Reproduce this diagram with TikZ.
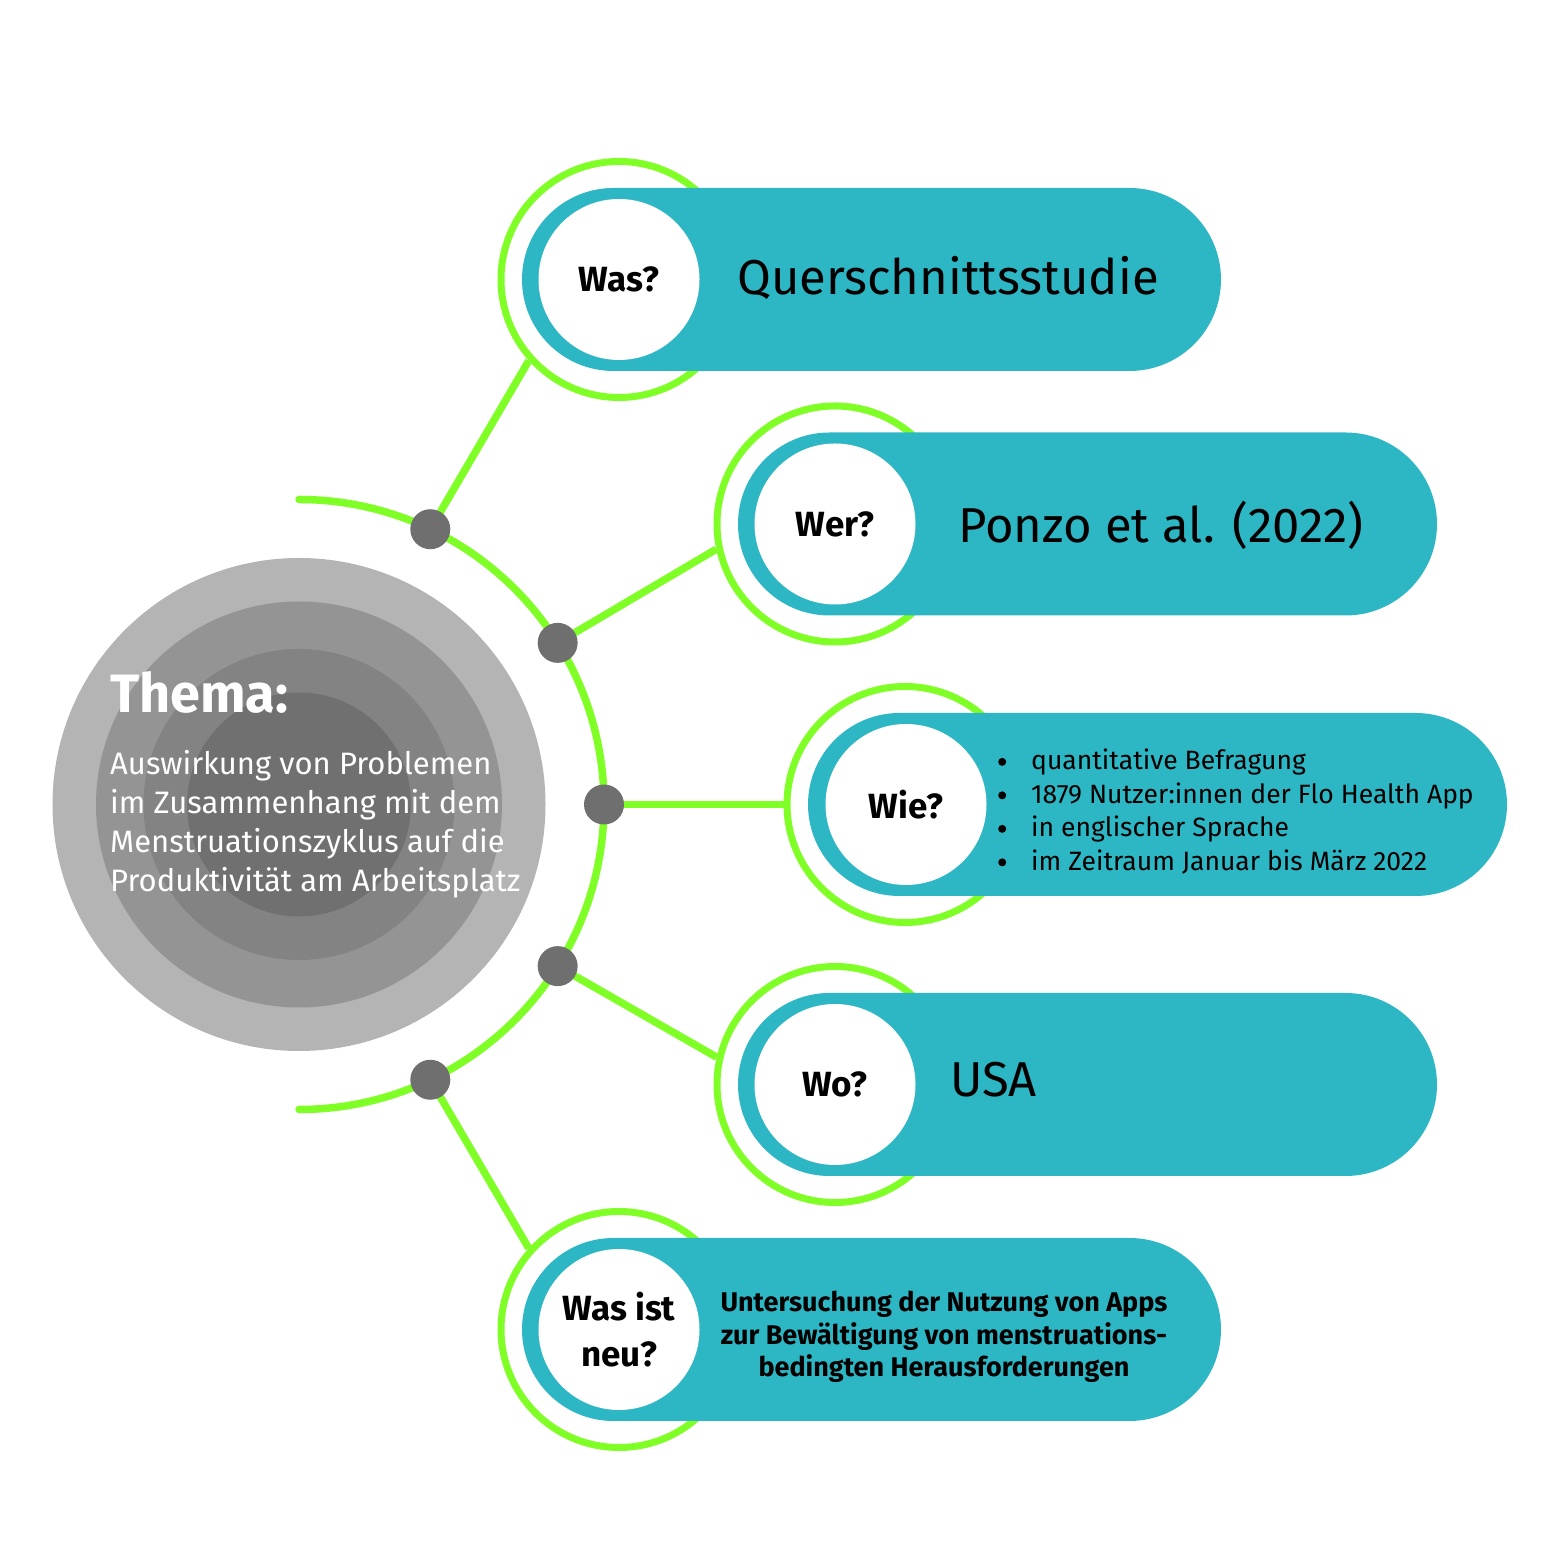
\documentclass[tikz,border=0pt]{standalone}
\usepackage{fontspec}
\setmainfont{Fira Sans}
\usetikzlibrary{calc}
\definecolor{lgreen}{HTML}{7FFF26}
\definecolor{pteal}{HTML}{2DB7C4}
\definecolor{dotgray}{HTML}{6F6F6F}
\definecolor{gA}{HTML}{B4B4B4}
\definecolor{gB}{HTML}{949494}
\definecolor{gC}{HTML}{838383}
\definecolor{gD}{HTML}{707070}
\newcommand\mybul{\makebox[34pt][l]{\hspace{1pt}\raisebox{4pt}{\tikz\fill (0,0) circle[radius=4pt];}}}
\begin{document}
\begin{tikzpicture}[x=1pt,y=1pt,
  ring/.style={circle, draw=lgreen, line width=7pt, minimum size=236pt, inner sep=0pt},
  pill/.style={fill=pteal, minimum width=699pt, minimum height=183pt, rounded corners=91.5pt, inner sep=0pt},
  hole/.style={circle, fill=white, minimum size=161pt, inner sep=0pt, font=\fontsize{35}{44}\selectfont\bfseries, align=center},
  dot/.style={circle, fill=dotgray, minimum size=40pt, inner sep=0pt},
  link/.style={draw=lgreen, line width=7.5pt},
  disc/.style={circle, inner sep=0pt},
  big/.style={font=\fontsize{49}{58}\selectfont, anchor=base west, inner sep=0pt},
]
\useasboundingbox (0,0) rectangle (1563,1563);
\coordinate (m) at (299,758.5);
% grey target
\node[disc, fill=gA, minimum size=493pt] (g1) at (m) {};
\node[disc, fill=gB, minimum size=406pt] (g2) at (m) {};
\node[disc, fill=gC, minimum size=311pt] (g3) at (m) {};
\node[disc, fill=gD, minimum size=224pt] (g4) at (m) {};
% green arc
\draw[link, line cap=round] (299,1063.5) arc[start angle=90, end angle=-90, radius=305];
% dot positions
\coordinate (c1) at ($(m)+(64.5:305)$);
\coordinate (c2) at ($(m)+(32:305)$);
\coordinate (c3) at ($(m)+(0:305)$);
\coordinate (c4) at ($(m)+(-32:305)$);
\coordinate (c5) at ($(m)+(-64.5:305)$);
% rings
\node[ring] (r1) at (619,1283.5) {};
\node[ring] (r2) at (835,1039) {};
\node[ring] (r3) at (905,758.5) {};
\node[ring] (r4) at (835,478.5) {};
\node[ring] (r5) at (619,233.5) {};
% pills
\node[pill] (p1) at (871.5,1283.5) {};
\node[pill] (p2) at (1087.5,1039) {};
\node[pill] (p3) at (1157.5,758.5) {};
\node[pill] (p4) at (1087.5,478.5) {};
\node[pill] (p5) at (871.5,233.5) {};
% white holes with questions
\node[hole] (h1) at (619,1283.5) {Was?};
\node[hole] (h2) at (835,1039) {Wer?};
\node[hole] (h3) at (906,758.5) {\raisebox{-4pt}{Wie?}};
\node[hole] (h4) at (835,478.5) {\raisebox{-2pt}{Wo?}};
\node[hole] (h5) at (619,233.5) {Was ist\\\raisebox{-2pt}{neu?}};
% connectors
\draw[link] (c1) -- (r1.222);
\draw[link] (c2) -- (r2.192);
\draw[link] (c3) -- (r3.180);
\draw[link] (c4) -- (r4.167);
\draw[link] (c5) -- (r5.138);
% dots
\node[dot] (dot1) at (c1) {};
\node[dot] (dot2) at (c2) {};
\node[dot] (dot3) at (c3) {};
\node[dot] (dot4) at (c4) {};
\node[dot] (dot5) at (c5) {};
% texts
\node[big] (t1) at (737,1268) {Querschnittsstudie};
\node[big] (t2) at (958,1020) {Ponzo et al. (2022)};
\node[big] (t4) at (950,466) {USA};
\node[font=\fontsize{26.5}{33.5}\selectfont, align=left, anchor=north west, inner sep=0pt] (t3) at (997,814)
  {\mybul quantitative Befragung\\
   \mybul 1879 Nutzer:innen der Flo Health App\\
   \mybul in englischer Sprache\\
   \mybul im Zeitraum Januar bis März 2022};
\node[font=\fontsize{27}{32.5}\selectfont\bfseries, align=center, inner sep=0pt] (t5) at (944,226)
  {Untersuchung der Nutzung von Apps\\zur Bewältigung von menstruations-\\bedingten Herausforderungen};
\node[font=\fontsize{54}{60}\selectfont\bfseries, text=white, anchor=base west, inner sep=0pt] (th) at (110,850) {Thema:};
\node[font=\fontsize{31}{39}\selectfont, text=white, align=left, anchor=north west, inner sep=0pt] (tb) at (110,812.5)
  {Auswirkung von Problemen\\im Zusammenhang mit dem\\Menstruationszyklus auf die\\Produktivität am Arbeitsplatz};
\end{tikzpicture}
\end{document}
